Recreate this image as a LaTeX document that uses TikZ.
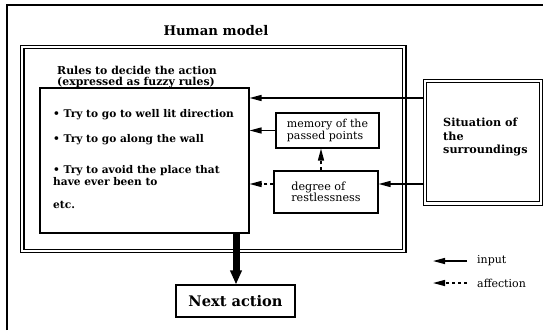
\documentclass[tikz,border=0pt]{standalone}
\usepackage{fontspec}
\setmainfont{DejaVu Serif}
\usetikzlibrary{arrows.meta}
\begin{document}
\begin{tikzpicture}[x=1pt, y=-1pt,
        box/.style={draw, line width=1.1pt, inner sep=0pt},
        dbox/.style={draw, line width=1.1pt, double, double distance=2.4pt, inner sep=0pt},
        input/.style={line width=1.4pt, -{Triangle[length=12pt,width=6pt]}},
        affect/.style={input, dash pattern=on 3pt off 3pt},
        txt/.style={inner sep=0pt, anchor=west, align=left, font=\fontsize{10.6}{12}\selectfont\bfseries},
        small/.style={inner sep=0pt, anchor=west, align=left, font=\fontsize{11}{12}\selectfont}]
    \useasboundingbox (0,0) rectangle (543,330);
    \draw[line width=1.1pt] (7,330) |- (543,5);
    \node[font=\fontsize{13.3}{15}\selectfont\bfseries] (title) at (216,31) {Human model};
    \node[dbox, minimum width=382pt, minimum height=204pt] (hm) at (213.25,149) {};
    \node[txt, font=\fontsize{10.9}{11}\selectfont\bfseries] (rtitle) at (57,77) {Rules to decide the action\\(expressed as fuzzy rules)};
    \node[box, minimum width=209pt, minimum height=145pt] (rules) at (144.5,160.5) {};
    \node[txt] (it1) at (53,115) {\textbullet\ Try to go to well lit direction};
    \node[txt] (it2) at (53,140) {\textbullet\ Try to go along the wall};
    \node[txt] (it3) at (53,175.5) {\textbullet\ Try to avoid the place that\\have ever been to};
    \node[txt] (it4) at (53,205) {etc.};
    \node[box, minimum width=103pt, minimum height=35pt, align=left, font=\fontsize{11}{12.5}\selectfont] (mem) at (327.5,130.5) {memory of the\\passed points};
    \node[box, minimum width=104pt, minimum height=42pt, align=left, font=\fontsize{11.2}{11}\selectfont] (deg) at (326,192) {degree of\\restlessness};
    \node[dbox, minimum width=116pt, minimum height=122.5pt] (sit) at (483,142.25) {};
    \node[txt, font=\fontsize{11.2}{13.5}\selectfont\bfseries] (sittxt) at (443,137) {Situation of\\the\\surroundings};
    \node[box, minimum width=119pt, minimum height=32pt, font=\fontsize{14.6}{17}\selectfont\bfseries] (next) at (235.5,301) {Next action};
    % connectors
    \coordinate (ya) at (0,98);
    \coordinate (yb) at (0,184);
    \coordinate (xa) at (321,0);
    \coordinate (xb) at (236,0);
    \draw[input] (sit.west |- ya) -- (rules.east |- ya);
    \draw[input] (mem.west) -- (rules.east |- mem.west);
    \draw[affect] (deg.west |- yb) -- (rules.east |- yb);
    \draw[input] (sit.west |- yb) -- (deg.east |- yb);
    \draw[affect] (deg.north -| xa) -- (mem.south -| xa);
    \draw[line width=7pt, -{Triangle[length=14pt,width=11pt]}] (rules.south -| xb) -- (next.north -| xb);
    % legend
    \node[small] (legin) at (477,261) {input};
    \node[small] (legaf) at (477,283) {affection};
    \draw[input] ([xshift=-10pt]legin.west) -- ++(-34,0);
    \draw[affect] ([xshift=-10pt]legaf.west) -- ++(-34,0);
\end{tikzpicture}
\end{document}
